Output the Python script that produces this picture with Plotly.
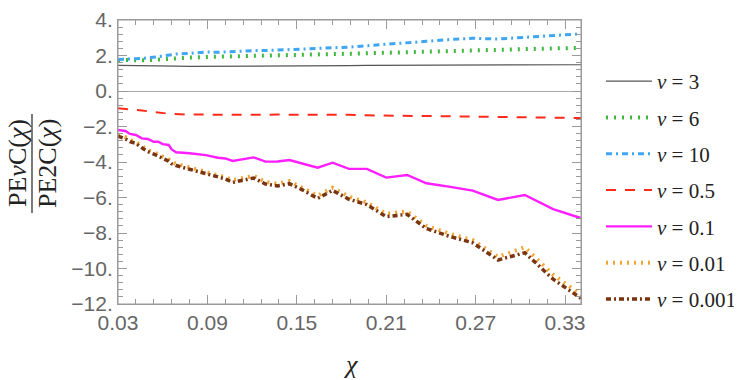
import plotly.graph_objects as go

# ---------------- data ----------------
chi = [0.030, 0.035, 0.038, 0.042, 0.046, 0.050, 0.054, 0.057, 0.060, 0.064,
       0.066, 0.069, 0.078, 0.089, 0.097, 0.102, 0.107, 0.113, 0.121, 0.129,
       0.137, 0.145, 0.154, 0.164, 0.174, 0.185, 0.197, 0.210, 0.224, 0.237,
       0.253, 0.268, 0.285, 0.303, 0.322, 0.341]

nu_3 = [1.44, 1.44, 1.43, 1.43, 1.42, 1.42, 1.41, 1.41, 1.40, 1.40,
        1.40, 1.40, 1.39, 1.39, 1.39, 1.39, 1.40, 1.40, 1.40, 1.41,
        1.41, 1.41, 1.42, 1.42, 1.43, 1.43, 1.44, 1.44, 1.45, 1.45,
        1.46, 1.46, 1.47, 1.47, 1.48, 1.48]

nu_6 = [1.75, 1.74, 1.73, 1.72, 1.72, 1.73, 1.76, 1.78, 1.80, 1.82,
        1.83, 1.84, 1.88, 1.92, 1.93, 1.95, 1.96, 1.97, 1.98, 1.98,
        1.99, 2.00, 2.02, 2.05, 2.08, 2.10, 2.13, 2.15, 2.19, 2.22,
        2.27, 2.30, 2.33, 2.37, 2.40, 2.43]

nu_10 = [1.78, 1.78, 1.80, 1.82, 1.84, 1.86, 1.90, 1.93, 1.98, 2.04,
         2.07, 2.08, 2.12, 2.20, 2.18, 2.20, 2.25, 2.24, 2.28, 2.28,
         2.31, 2.34, 2.36, 2.38, 2.42, 2.47, 2.55, 2.62, 2.70, 2.80,
         2.90, 2.97, 2.93, 3.02, 3.14, 3.22]

nu_05 = [-0.97, -1.00, -1.04, -1.07, -1.10, -1.14, -1.19, -1.22, -1.25, -1.28,
         -1.29, -1.31, -1.33, -1.33, -1.34, -1.34, -1.33, -1.33, -1.34, -1.34,
         -1.33, -1.33, -1.33, -1.32, -1.32, -1.34, -1.37, -1.38, -1.40, -1.42,
         -1.44, -1.45, -1.45, -1.45, -1.48, -1.52]

nu_01 = [-2.20, -2.25, -2.42, -2.48, -2.67, -2.70, -2.86, -2.86, -2.99, -3.04,
         -3.29, -3.45, -3.51, -3.61, -3.76, -3.80, -3.94, -3.87, -3.74, -3.98,
         -3.97, -3.89, -4.08, -4.32, -4.04, -4.39, -4.39, -4.88, -4.73, -5.20,
         -5.40, -5.61, -6.14, -5.86, -6.65, -7.17]

nu_001 = [-2.45, -2.60, -2.75, -2.88, -3.10, -3.33, -3.45, -3.56, -3.66, -3.85,
          -4.00, -4.10, -4.30, -4.58, -4.75, -4.85, -5.02, -4.92, -4.78, -5.12,
          -5.22, -5.08, -5.45, -5.90, -5.45, -5.95, -6.28, -6.92, -6.78, -7.60,
          -8.05, -8.40, -9.35, -8.80, -10.35, -11.50]

nu_0001 = [-2.55, -2.70, -2.85, -2.95, -3.20, -3.42, -3.55, -3.66, -3.75, -3.95,
           -4.10, -4.20, -4.41, -4.68, -4.85, -4.95, -5.15, -5.05, -4.90, -5.24,
           -5.35, -5.22, -5.58, -6.05, -5.60, -6.10, -6.40, -7.08, -6.95, -7.75,
           -8.20, -8.55, -9.52, -9.11, -10.60, -11.70]

series_names = ["3", "6", "10", "0.5", "0.1", "0.01", "0.001"]
series_values = [nu_3, nu_6, nu_10, nu_05, nu_01, nu_001, nu_0001]

x_tick_vals = [0.03, 0.09, 0.15, 0.21, 0.27, 0.33]
x_tick_text = ["0.03", "0.09", "0.15", "0.21", "0.27", "0.33"]
y_tick_vals = [4, 2, 0, -2, -4, -6, -8, -10, -12]
y_tick_text = ["4.", "2.", "0.", "\u22122.", "\u22124.", "\u22126.", "\u22128.", "\u221210.", "\u221212."]

x_range = [0.03, 0.3407]
y_range = [-12, 4]
# minor tick positions (every 0.012 in chi, every 0.4 in the ratio)
x_minor = [round(0.03 + 0.012 * k, 4) for k in range(26)]
y_minor = [round(-12 + 0.4 * k, 2) for k in range(41)]

# ---------------- styles ----------------
styles = [
    dict(color="#555555", width=1.2, dash="solid"),
    dict(color="#3cb83c", width=4, dash="2px,6px"),
    dict(color="#3ea6f2", width=3, dash="6px,4px,2px,4px"),
    dict(color="#ff2a1a", width=2, dash="10px,9px"),
    dict(color="#ff1eff", width=2.4, dash="solid"),
    dict(color="#f2a531", width=4, dash="2px,5px"),
    dict(color="#7a3410", width=3.5, dash="5px,3px,2px,3px"),
]

fig = go.Figure()
for i, (name, vals) in enumerate(zip(series_names, series_values)):
    fig.add_trace(go.Scatter(
        x=chi, y=vals, mode="lines",
        name="<i>\u03bd</i> = " + name,
        legendgroup="g" + str(i),
        line=styles[i],
    ))
# empty trace that carries the minor-tick overlay axes
fig.add_trace(go.Scatter(x=[], y=[], xaxis="x2", yaxis="y2", showlegend=False,
                         hoverinfo="skip"))

# the page body has an 8px margin, so the figure is offset by 8px
OFF = 8
W, H = 742, 380
L, R, T, B = 118 - OFF, 742 - 581 + OFF, 20 - OFF, 380 - 304 + OFF
pw, ph = W - L - R, H - T - B

def px2paper(px, py):
    # px, py are page pixels of the reference picture
    return (px - OFF - L) / pw, (H - B - (py - OFF)) / ph

axis_col = "#9a9a9a"
tick_font = dict(family="Liberation Sans, Arial, sans-serif", size=21, color="#666666")

lgx, lgy = px2paper(601, 61)

fig.update_layout(
    template="none",
    width=W, height=H,
    margin=dict(l=L, r=R, t=T, b=B, pad=0, autoexpand=False),
    plot_bgcolor="white", paper_bgcolor="white",
    showlegend=True,
    legend=dict(
        x=lgx, xanchor="left", y=lgy, yanchor="top",
        font=dict(family="Liberation Serif, serif", size=21, color="#222222"),
        tracegroupgap=6, itemwidth=46, bgcolor="rgba(0,0,0,0)", borderwidth=0,
    ),
    xaxis=dict(
        range=x_range, showgrid=False, zeroline=False, automargin=False,
        showline=True, linecolor=axis_col, linewidth=1, mirror="ticks",
        ticks="inside", ticklen=9, tickcolor=axis_col, tickwidth=1,
        tickmode="array", tickvals=x_tick_vals, ticktext=x_tick_text, tickfont=tick_font,
    ),
    yaxis=dict(
        range=y_range, showgrid=False, automargin=False,
        zeroline=True, zerolinecolor="#aaaaaa", zerolinewidth=1,
        showline=True, linecolor=axis_col, linewidth=1, mirror="ticks",
        ticks="inside", ticklen=9, tickcolor=axis_col, tickwidth=1,
        tickmode="array", tickvals=y_tick_vals, ticktext=y_tick_text, tickfont=tick_font,
    ),
    xaxis2=dict(
        overlaying="x", anchor="y2", side="bottom", range=x_range,
        showgrid=False, zeroline=False, automargin=False,
        showline=True, linecolor=axis_col, linewidth=1, mirror="ticks",
        ticks="inside", ticklen=5, tickcolor=axis_col, tickwidth=1,
        tickmode="array", tickvals=x_minor, showticklabels=False,
    ),
    yaxis2=dict(
        overlaying="y", anchor="x2", side="left", range=y_range,
        showgrid=False, zeroline=False, automargin=False,
        showline=True, linecolor=axis_col, linewidth=1, mirror="ticks",
        ticks="inside", ticklen=5, tickcolor=axis_col, tickwidth=1,
        tickmode="array", tickvals=y_minor, showticklabels=False,
    ),
)

# plot frame
fig.add_shape(type="rect", xref="paper", yref="paper", x0=0, y0=0, x1=1, y1=1,
              line=dict(color=axis_col, width=1), fillcolor="rgba(0,0,0,0)", layer="above")

serif = "Liberation Serif, DejaVu Serif, serif"
nx, ny = px2paper(17, 163)
dx, dy = px2paper(47, 164)
fig.add_annotation(text="PE<i>\u03bd</i>C(<i>\u03c7</i>)", x=nx, y=ny, xref="paper", yref="paper",
                   textangle=-90, showarrow=False, xanchor="center", yanchor="middle",
                   font=dict(family=serif, size=26, color="#222222"))
fig.add_annotation(text="PE2C(<i>\u03c7</i>)", x=dx, y=dy, xref="paper", yref="paper",
                   textangle=-90, showarrow=False, xanchor="center", yanchor="middle",
                   font=dict(family=serif, size=26, color="#222222"))
lx0, ly0 = px2paper(32, 114)
lx1, ly1 = px2paper(32, 213)
fig.add_shape(type="line", xref="paper", yref="paper", x0=lx0, y0=ly0, x1=lx1, y1=ly1,
              line=dict(color="#222222", width=1.2))
cx, cy = px2paper(350, 364)
fig.add_annotation(text="<i>\u03c7</i>", x=cx, y=cy, xref="paper", yref="paper",
                   showarrow=False, xanchor="center", yanchor="middle",
                   font=dict(family=serif, size=26, color="#222222"))

fig.write_html("out.html")
